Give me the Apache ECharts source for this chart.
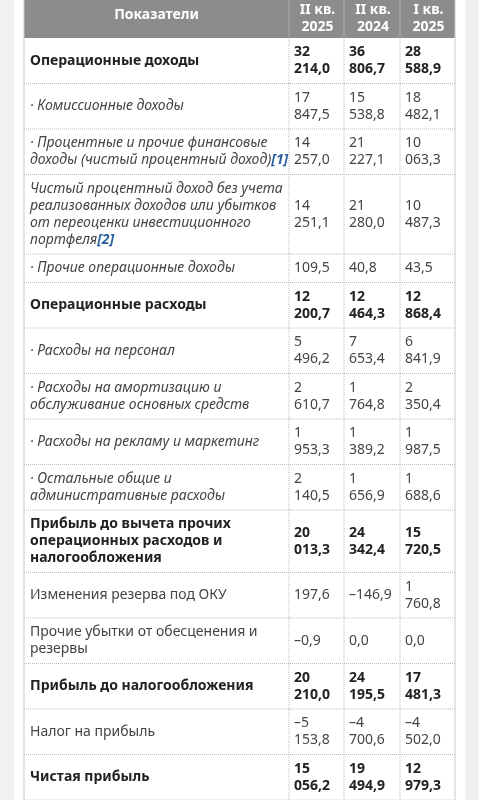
<!DOCTYPE html>
<html><head><meta charset="utf-8">
<script src="https://cdn.jsdelivr.net/npm/echarts@6/dist/echarts.min.js"></script>
<style>html,body{margin:0;padding:0;background:#f1f1f1}#c{width:479px;height:800px}</style>
</head><body><div id="c"></div>
<script>
const headers = ["Показатели", "II кв.\n2025", "II кв.\n2024", "I кв.\n2025"];
const labels = [
  "Операционные доходы",
  "· Комиссионные доходы",
  "· Процентные и прочие финансовые\nдоходы (чистый процентный доход){r|[1]}",
  "Чистый процентный доход без учета\nреализованных доходов или убытков\nот переоценки инвестиционного\nпортфеля{r|[2]}",
  "· Прочие операционные доходы",
  "Операционные расходы",
  "· Расходы на персонал",
  "· Расходы на амортизацию и\nобслуживание основных средств",
  "· Расходы на рекламу и маркетинг",
  "· Остальные общие и\nадминистративные расходы",
  "Прибыль до вычета прочих\nоперационных расходов и\nналогообложения",
  "Изменения резерва под ОКУ",
  "Прочие убытки от обесценения и\nрезервы",
  "Прибыль до налогообложения",
  "Налог на прибыль",
  "Чистая прибыль"
];
const rowKind = ["bold","italic","italic","italic","italic","bold","italic","italic","italic","italic","bold","normal","normal","bold","normal","bold"];
const q2_2025 = [32214.0,17847.5,14257.0,14251.1,109.5,12200.7,5496.2,2610.7,1953.3,2140.5,20013.3,197.6,-0.9,20210.0,-5153.8,15056.2];
const q2_2024 = [36806.7,15538.8,21227.1,21280.0,40.8,12464.3,7653.4,1764.8,1389.2,1656.9,24342.4,-146.9,0.0,24195.5,-4700.6,19494.9];
const q1_2025 = [28588.9,18482.1,10063.3,10487.3,43.5,12868.4,6841.9,2350.4,1987.5,1688.6,15720.5,1760.8,0.0,17481.3,-4502.0,12979.3];

function fmt(v){
  const neg = v < 0, a = Math.abs(v);
  const s = a.toFixed(1).replace('.', ',');
  const ip = Math.floor(a);
  let out;
  if (ip >= 1000) { const th = Math.floor(ip/1000); out = th + "\n" + s.slice(String(th).length); }
  else out = s;
  return (neg ? "–" : "") + out;
}
const cols = [q2_2025, q2_2024, q1_2025];
const X = [24, 289, 344, 400, 455];
const LH = 17, headH = 38;
const els = [];
const font = '"Noto Sans", sans-serif';
els.push({type:'rect', shape:{x:14,y:0,width:451,height:800}, style:{fill:'#fff'}});
els.push({type:'rect', shape:{x:X[0],y:0,width:X[4]-X[0],height:headH}, style:{fill:'#8c8c8c'}});
headers.forEach((h,i)=>{
  els.push({type:'text', x:(X[i]+X[i+1])/2 + (i?1:0), y:headH/2+(i?0:-4), style:{text:h, fill:'#fff', font:'bold 14px '+font, align:'center', verticalAlign:'middle', lineHeight:17}});
});
for (let i=1;i<4;i++) els.push({type:'line', shape:{x1:X[i],y1:0,x2:X[i],y2:headH}, style:{stroke:'#aaa',lineWidth:1}});
let y = headH;
labels.forEach((lab,r)=>{
  const vals = cols.map(c=>fmt(c[r]));
  const lines = Math.max(lab.split("\n").length, ...vals.map(v=>v.split("\n").length));
  const h = lines*LH + 11.5;
  const cy = y + h/2;
  const k = rowKind[r];
  const w = k==='bold' ? 'bold ' : '';
  const st = k==='italic' ? 'italic ' : '';
  const color = k==='bold' ? '#222' : '#444';
  els.push({type:'text', x:X[0]+6, y:cy, style:{text:lab, fill:color, font:st+w+'14px '+font, verticalAlign:'middle', lineHeight:LH,
    rich:{r:{fill:'#2a5f9e', fontStyle:'italic', fontWeight:'bold', fontSize:14, fontFamily:font}}}});
  vals.forEach((v,c)=>{
    els.push({type:'text', x:X[c+1]+5, y:cy, style:{text:v, fill:color, font:w+'14px '+font, verticalAlign:'middle', lineHeight:LH}});
  });
  y += h;
  els.push({type:'line', shape:{x1:X[0],y1:y,x2:X[4],y2:y}, style:{stroke:'#bbb',lineWidth:1,lineDash:[1,1]}});
});
for (let i=1;i<4;i++) els.push({type:'line', shape:{x1:X[i],y1:headH,x2:X[i],y2:y}, style:{stroke:'#bbb',lineWidth:1,lineDash:[1,1]}});
els.push({type:'line', shape:{x1:X[0],y1:0,x2:X[0],y2:y}, style:{stroke:'#ccc',lineWidth:1}});
els.push({type:'line', shape:{x1:X[4],y1:0,x2:X[4],y2:y}, style:{stroke:'#ccc',lineWidth:1}});
const chart = echarts.init(document.getElementById('c'));
chart.setOption({animation:false, graphic:{elements:els}});
</script></body></html>
